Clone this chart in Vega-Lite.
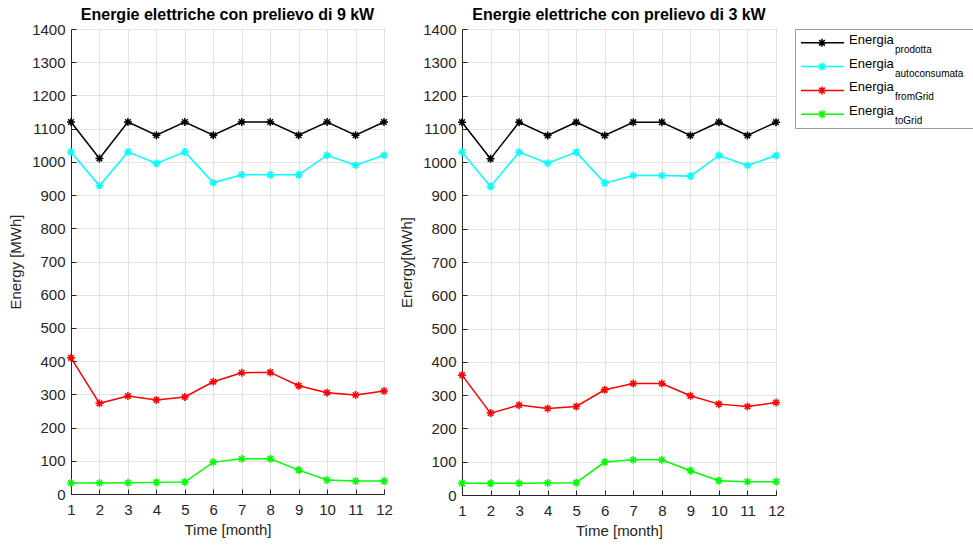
{
  "$schema": "https://vega.github.io/schema/vega-lite/v6.json",
  "padding": {"left": 8, "top": 6, "right": 0, "bottom": 0},
  "background": "white",
  "config": {
    "font": "Liberation Sans",
    "axis": {"labelFont": "Liberation Sans", "labelFontSize": 15, "labelColor": "#262626", "titleFont": "Liberation Sans", "titleFontSize": 15, "titleFontWeight": "normal", "titleColor": "#262626", "domainColor": "#262626", "tickColor": "#262626", "gridColor": "#e3e3e3", "gridWidth": 1},
    "title": {"font": "Liberation Sans", "fontSize": 16, "fontWeight": "bold", "color": "#000000", "offset": -1},
    "view": {"stroke": "#262626", "strokeWidth": 1}
  },
  "datasets": {
    "energy": [
      {"panel": "9", "month": 1, "series": "prodotta", "energy": 1120},
      {"panel": "9", "month": 2, "series": "prodotta", "energy": 1010},
      {"panel": "9", "month": 3, "series": "prodotta", "energy": 1120},
      {"panel": "9", "month": 4, "series": "prodotta", "energy": 1080},
      {"panel": "9", "month": 5, "series": "prodotta", "energy": 1120},
      {"panel": "9", "month": 6, "series": "prodotta", "energy": 1080},
      {"panel": "9", "month": 7, "series": "prodotta", "energy": 1120},
      {"panel": "9", "month": 8, "series": "prodotta", "energy": 1120},
      {"panel": "9", "month": 9, "series": "prodotta", "energy": 1080},
      {"panel": "9", "month": 10, "series": "prodotta", "energy": 1120},
      {"panel": "9", "month": 11, "series": "prodotta", "energy": 1080},
      {"panel": "9", "month": 12, "series": "prodotta", "energy": 1120},
      {"panel": "9", "month": 1, "series": "autoconsumata", "energy": 1030},
      {"panel": "9", "month": 2, "series": "autoconsumata", "energy": 928},
      {"panel": "9", "month": 3, "series": "autoconsumata", "energy": 1030},
      {"panel": "9", "month": 4, "series": "autoconsumata", "energy": 995},
      {"panel": "9", "month": 5, "series": "autoconsumata", "energy": 1030},
      {"panel": "9", "month": 6, "series": "autoconsumata", "energy": 937},
      {"panel": "9", "month": 7, "series": "autoconsumata", "energy": 961},
      {"panel": "9", "month": 8, "series": "autoconsumata", "energy": 961},
      {"panel": "9", "month": 9, "series": "autoconsumata", "energy": 961},
      {"panel": "9", "month": 10, "series": "autoconsumata", "energy": 1020},
      {"panel": "9", "month": 11, "series": "autoconsumata", "energy": 990},
      {"panel": "9", "month": 12, "series": "autoconsumata", "energy": 1020},
      {"panel": "9", "month": 1, "series": "fromGrid", "energy": 410},
      {"panel": "9", "month": 2, "series": "fromGrid", "energy": 273},
      {"panel": "9", "month": 3, "series": "fromGrid", "energy": 295},
      {"panel": "9", "month": 4, "series": "fromGrid", "energy": 283},
      {"panel": "9", "month": 5, "series": "fromGrid", "energy": 292},
      {"panel": "9", "month": 6, "series": "fromGrid", "energy": 338},
      {"panel": "9", "month": 7, "series": "fromGrid", "energy": 365},
      {"panel": "9", "month": 8, "series": "fromGrid", "energy": 366},
      {"panel": "9", "month": 9, "series": "fromGrid", "energy": 326},
      {"panel": "9", "month": 10, "series": "fromGrid", "energy": 305},
      {"panel": "9", "month": 11, "series": "fromGrid", "energy": 298},
      {"panel": "9", "month": 12, "series": "fromGrid", "energy": 310},
      {"panel": "9", "month": 1, "series": "toGrid", "energy": 33},
      {"panel": "9", "month": 2, "series": "toGrid", "energy": 33},
      {"panel": "9", "month": 3, "series": "toGrid", "energy": 34},
      {"panel": "9", "month": 4, "series": "toGrid", "energy": 35},
      {"panel": "9", "month": 5, "series": "toGrid", "energy": 36},
      {"panel": "9", "month": 6, "series": "toGrid", "energy": 96},
      {"panel": "9", "month": 7, "series": "toGrid", "energy": 106},
      {"panel": "9", "month": 8, "series": "toGrid", "energy": 106},
      {"panel": "9", "month": 9, "series": "toGrid", "energy": 72},
      {"panel": "9", "month": 10, "series": "toGrid", "energy": 42},
      {"panel": "9", "month": 11, "series": "toGrid", "energy": 39},
      {"panel": "9", "month": 12, "series": "toGrid", "energy": 39},
      {"panel": "3", "month": 1, "series": "prodotta", "energy": 1120},
      {"panel": "3", "month": 2, "series": "prodotta", "energy": 1010},
      {"panel": "3", "month": 3, "series": "prodotta", "energy": 1120},
      {"panel": "3", "month": 4, "series": "prodotta", "energy": 1080},
      {"panel": "3", "month": 5, "series": "prodotta", "energy": 1120},
      {"panel": "3", "month": 6, "series": "prodotta", "energy": 1080},
      {"panel": "3", "month": 7, "series": "prodotta", "energy": 1120},
      {"panel": "3", "month": 8, "series": "prodotta", "energy": 1120},
      {"panel": "3", "month": 9, "series": "prodotta", "energy": 1080},
      {"panel": "3", "month": 10, "series": "prodotta", "energy": 1120},
      {"panel": "3", "month": 11, "series": "prodotta", "energy": 1080},
      {"panel": "3", "month": 12, "series": "prodotta", "energy": 1120},
      {"panel": "3", "month": 1, "series": "autoconsumata", "energy": 1030},
      {"panel": "3", "month": 2, "series": "autoconsumata", "energy": 927},
      {"panel": "3", "month": 3, "series": "autoconsumata", "energy": 1030},
      {"panel": "3", "month": 4, "series": "autoconsumata", "energy": 997},
      {"panel": "3", "month": 5, "series": "autoconsumata", "energy": 1030},
      {"panel": "3", "month": 6, "series": "autoconsumata", "energy": 937},
      {"panel": "3", "month": 7, "series": "autoconsumata", "energy": 960},
      {"panel": "3", "month": 8, "series": "autoconsumata", "energy": 960},
      {"panel": "3", "month": 9, "series": "autoconsumata", "energy": 958},
      {"panel": "3", "month": 10, "series": "autoconsumata", "energy": 1020},
      {"panel": "3", "month": 11, "series": "autoconsumata", "energy": 990},
      {"panel": "3", "month": 12, "series": "autoconsumata", "energy": 1020},
      {"panel": "3", "month": 1, "series": "fromGrid", "energy": 360},
      {"panel": "3", "month": 2, "series": "fromGrid", "energy": 246},
      {"panel": "3", "month": 3, "series": "fromGrid", "energy": 270},
      {"panel": "3", "month": 4, "series": "fromGrid", "energy": 260},
      {"panel": "3", "month": 5, "series": "fromGrid", "energy": 266},
      {"panel": "3", "month": 6, "series": "fromGrid", "energy": 316},
      {"panel": "3", "month": 7, "series": "fromGrid", "energy": 335},
      {"panel": "3", "month": 8, "series": "fromGrid", "energy": 335},
      {"panel": "3", "month": 9, "series": "fromGrid", "energy": 298},
      {"panel": "3", "month": 10, "series": "fromGrid", "energy": 273},
      {"panel": "3", "month": 11, "series": "fromGrid", "energy": 266},
      {"panel": "3", "month": 12, "series": "fromGrid", "energy": 278},
      {"panel": "3", "month": 1, "series": "toGrid", "energy": 35},
      {"panel": "3", "month": 2, "series": "toGrid", "energy": 35},
      {"panel": "3", "month": 3, "series": "toGrid", "energy": 35},
      {"panel": "3", "month": 4, "series": "toGrid", "energy": 36},
      {"panel": "3", "month": 5, "series": "toGrid", "energy": 37},
      {"panel": "3", "month": 6, "series": "toGrid", "energy": 99},
      {"panel": "3", "month": 7, "series": "toGrid", "energy": 106},
      {"panel": "3", "month": 8, "series": "toGrid", "energy": 106},
      {"panel": "3", "month": 9, "series": "toGrid", "energy": 73},
      {"panel": "3", "month": 10, "series": "toGrid", "energy": 43},
      {"panel": "3", "month": 11, "series": "toGrid", "energy": 40},
      {"panel": "3", "month": 12, "series": "toGrid", "energy": 40}
    ],
    "legend": [
      {"series": "prodotta"},
      {"series": "autoconsumata"},
      {"series": "fromGrid"},
      {"series": "toGrid"}
    ]
  },
  "spacing": 6,
  "hconcat": [
    {
      "title": "Energie elettriche con prelievo di 9 kW",
      "width": 313,
      "height": 465,
      "data": {"name": "energy"},
      "transform": [{"filter": "datum.panel === '9'"}],
      "encoding": {
        "x": {"field": "month", "type": "quantitative", "scale": {"domain": [1, 12], "nice": false}, "axis": {"title": "Time [month]", "format": "d", "values": [1,2,3,4,5,6,7,8,9,10,11,12], "tickSize": -5, "labelPadding": 13, "titlePadding": 5, "labelFlush": false}},
        "y": {"field": "energy", "type": "quantitative", "scale": {"domain": [0, 1400], "nice": false}, "axis": {"title": "Energy [MWh]", "format": "d", "values": [0,100,200,300,400,500,600,700,800,900,1000,1100,1200,1300,1400], "tickSize": -5, "labelPadding": 11, "titlePadding": 8}},
        "color": {"field": "series", "type": "nominal", "scale": {"domain": ["prodotta", "autoconsumata", "fromGrid", "toGrid"], "range": ["#000000", "#00ffff", "#ff0000", "#00ff00"]}, "legend": null},
        "detail": {"field": "series"}
      },
      "layer": [
        {"mark": {"type": "line", "strokeWidth": 1.5}},
        {"mark": {"type": "point", "shape": "M-1,0L1,0M0,-1L0,1M-0.7,-0.7L0.7,0.7M-0.7,0.7L0.7,-0.7", "filled": false, "size": 64, "strokeWidth": 1.5, "opacity": 1}}
      ]
    },
    {
      "title": "Energie elettriche con prelievo di 3 kW",
      "width": 314,
      "height": 466,
      "data": {"name": "energy"},
      "transform": [{"filter": "datum.panel === '3'"}],
      "encoding": {
        "x": {"field": "month", "type": "quantitative", "scale": {"domain": [1, 12], "nice": false}, "axis": {"title": "Time [month]", "format": "d", "values": [1,2,3,4,5,6,7,8,9,10,11,12], "tickSize": -5, "labelPadding": 13, "titlePadding": 5, "labelFlush": false}},
        "y": {"field": "energy", "type": "quantitative", "scale": {"domain": [0, 1400], "nice": false}, "axis": {"title": "Energy[MWh]", "format": "d", "values": [0,100,200,300,400,500,600,700,800,900,1000,1100,1200,1300,1400], "tickSize": -5, "labelPadding": 11, "titlePadding": 8}},
        "color": {"field": "series", "type": "nominal", "scale": {"domain": ["prodotta", "autoconsumata", "fromGrid", "toGrid"], "range": ["#000000", "#00ffff", "#ff0000", "#00ff00"]}, "legend": null},
        "detail": {"field": "series"}
      },
      "layer": [
        {"mark": {"type": "line", "strokeWidth": 1.5}},
        {"mark": {"type": "point", "shape": "M-1,0L1,0M0,-1L0,1M-0.7,-0.7L0.7,0.7M-0.7,0.7L0.7,-0.7", "filled": false, "size": 64, "strokeWidth": 1.5, "opacity": 1}}
      ]
    },
    {
      "width": 180,
      "height": 99,
      "view": {"stroke": "#9a9a9a", "strokeWidth": 1},
      "data": {"name": "legend"},
      "encoding": {
        "y": {"field": "series", "type": "nominal", "scale": {"type": "point", "domain": ["prodotta", "autoconsumata", "fromGrid", "toGrid"], "padding": 0.58}, "axis": {"labels": false, "ticks": true, "tickSize": 3, "tickOpacity": 0, "domain": false, "grid": false, "title": null}},
        "color": {"field": "series", "type": "nominal", "scale": {"domain": ["prodotta", "autoconsumata", "fromGrid", "toGrid"], "range": ["#000000", "#00ffff", "#ff0000", "#00ff00"]}, "legend": null}
      },
      "layer": [
        {"mark": {"type": "rule", "strokeWidth": 1.5},
         "encoding": {"x": {"datum": 6, "type": "quantitative", "scale": {"domain": [0, 180], "nice": false}, "axis": null}, "x2": {"datum": 49}}},
        {"mark": {"type": "point", "shape": "M-1,0L1,0M0,-1L0,1M-0.7,-0.7L0.7,0.7M-0.7,0.7L0.7,-0.7", "filled": false, "size": 64, "strokeWidth": 1.5, "opacity": 1},
         "encoding": {"x": {"datum": 27, "type": "quantitative"}}},
        {"mark": {"type": "text", "text": "Energia", "align": "left", "baseline": "middle", "fontSize": 13, "dy": -3, "font": "Liberation Sans", "color": "#000000"},
         "encoding": {"x": {"datum": 54, "type": "quantitative"}, "color": {"value": "#000000"}}},
        {"mark": {"type": "text", "align": "left", "baseline": "middle", "fontSize": 10, "dy": 7, "font": "Liberation Sans"},
         "encoding": {"x": {"datum": 100, "type": "quantitative"}, "text": {"field": "series"}, "color": {"value": "#000000"}}}
      ]
    }
  ]
}
